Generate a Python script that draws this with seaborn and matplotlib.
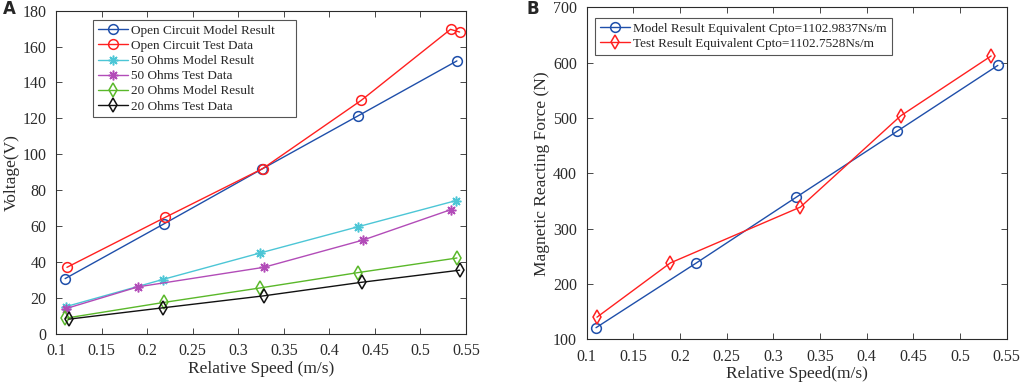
import pandas as pd
import seaborn as sns
from matplotlib import pyplot as plt

# panel A: voltage vs relative speed
oc_model_x = [0.110, 0.218, 0.326, 0.432, 0.540]
oc_model_y = [30.6, 61.0, 91.7, 121.5, 152.0]
oc_test_x = [0.112, 0.220, 0.327, 0.435, 0.533, 0.543]
oc_test_y = [36.9, 64.8, 92.0, 130.0, 169.6, 168.1]
r50_model_x = [0.111, 0.217, 0.324, 0.432, 0.539]
r50_model_y = [15.0, 30.1, 44.9, 59.6, 74.1]
r50_test_x = [0.111, 0.190, 0.328, 0.437, 0.533]
r50_test_y = [13.9, 26.0, 36.9, 52.1, 69.0]
r20_model_x = [0.110, 0.218, 0.324, 0.432, 0.540]
r20_model_y = [8.5, 17.3, 25.4, 34.0, 42.1]
r20_test_x = [0.114, 0.217, 0.328, 0.436, 0.543]
r20_test_y = [8.0, 14.3, 21.0, 28.6, 35.3]

# panel B: reacting force vs relative speed
force_model_x = [0.110, 0.2175, 0.3247, 0.4326, 0.5405]
force_model_y = [121, 238, 357, 476, 595]
force_test_x = [0.111, 0.1896, 0.329, 0.4365, 0.5333]
force_test_y = [140, 238, 339, 504, 612]

BLUE = '#1f4faa'
RED = '#ff2020'
CYAN = '#4cc6d6'
PURPLE = '#b24cb8'
GREEN = '#5ab82a'
BLACK = '#111111'
INK = '#2b2b2b'

sns.set_style('ticks')
plt.rcParams['font.family'] = ['Liberation Serif', 'DejaVu Serif']
plt.rcParams['xtick.direction'] = 'in'
plt.rcParams['ytick.direction'] = 'in'

fig = plt.figure(figsize=(10.24, 3.83), dpi=100)
W, H = 1024, 383
ax_a = fig.add_axes([56 / W, 1 - 333.5 / H, 410 / W, 322.8 / H])
ax_b = fig.add_axes([586.7 / W, 1 - 339.3 / H, 420 / W, 332 / H])

star = (8, 2, 0)
series_a = [
    (oc_model_x, oc_model_y, BLUE, 'o', 'Open Circuit Model Result'),
    (oc_test_x, oc_test_y, RED, 'o', 'Open Circuit Test Data'),
    (r50_model_x, r50_model_y, CYAN, star, '50 Ohms Model Result'),
    (r50_test_x, r50_test_y, PURPLE, star, '50 Ohms Test Data'),
    (r20_model_x, r20_model_y, GREEN, 'd', '20 Ohms Model Result'),
    (r20_test_x, r20_test_y, BLACK, 'd', '20 Ohms Test Data'),
]
for xs, ys, color, mk, name in series_a:
    df = pd.DataFrame({'speed': xs, 'value': ys})
    face = color if mk == star else 'none'
    size = 7.5 if mk == 'd' else 7
    sns.lineplot(data=df, x='speed', y='value', ax=ax_a, color=color, marker=mk,
                 markersize=size, markerfacecolor=face, markeredgecolor=color,
                 markeredgewidth=1.1, linewidth=1.0, label=name)

series_b = [
    (force_model_x, force_model_y, BLUE, 'o', 'Model Result Equivalent Cpto=1102.9837Ns/m'),
    (force_test_x, force_test_y, RED, 'd', 'Test Result Equivalent Cpto=1102.7528Ns/m'),
]
for xs, ys, color, mk, name in series_b:
    df = pd.DataFrame({'speed': xs, 'value': ys})
    size = 7.5 if mk == 'd' else 7
    sns.lineplot(data=df, x='speed', y='value', ax=ax_b, color=color, marker=mk,
                 markersize=size, markerfacecolor='none', markeredgecolor=color,
                 markeredgewidth=1.1, linewidth=1.0, label=name)

xticks = [0.1, 0.15, 0.2, 0.25, 0.3, 0.35, 0.4, 0.45, 0.5, 0.55]
xtick_labels = ['0.1', '0.15', '0.2', '0.25', '0.3', '0.35', '0.4', '0.45', '0.5', '0.55']

for ax in (ax_a, ax_b):
    ax.set_xlim(0.1, 0.55)
    ax.set_xticks(xticks)
    ax.set_xticklabels(xtick_labels)
    ax.tick_params(axis='both', labelsize=11.5, colors=INK, length=4, width=0.6,
                   top=True, right=True, pad=7)
    for s in ax.spines.values():
        s.set_visible(True)
        s.set_color(INK)
        s.set_linewidth(0.8)

ax_a.set_ylim(0, 180)
ax_a.set_yticks(range(0, 181, 20))
ax_a.set_xlabel('Relative Speed (m/s)', fontsize=12.5, color=INK, labelpad=1)
ax_a.set_ylabel('Voltage(V)', fontsize=12.5, color=INK, labelpad=2)

ax_b.set_ylim(100, 700)
ax_b.set_yticks(range(100, 701, 100))
ax_b.set_xlabel('Relative Speed(m/s)', fontsize=12.5, color=INK, labelpad=1)
ax_b.set_ylabel('Magnetic Reacting Force (N)', fontsize=12.5, color=INK, labelpad=2)

leg_kw = dict(loc='upper left', mode='expand', fontsize=9.5, frameon=True, fancybox=False,
              edgecolor=INK, handlelength=2.3, borderpad=0.35, labelspacing=0.22,
              handletextpad=0.25, borderaxespad=0)
leg_a = ax_a.legend(bbox_to_anchor=(0.090, 0.971 - 0.3, 0.495, 0.3), **leg_kw)
leg_a.get_frame().set_linewidth(0.8)
leg_b = ax_b.legend(bbox_to_anchor=(0.020, 0.968 - 0.1, 0.707, 0.1), **leg_kw)
leg_b.get_frame().set_linewidth(0.8)

fig.text(3 / W, 1 - 14 / H, 'A', fontsize=12, fontweight='bold', family='DejaVu Sans')
fig.text(527 / W, 1 - 14 / H, 'B', fontsize=12, fontweight='bold', family='DejaVu Sans')

fig.savefig('out.png', dpi=100)
